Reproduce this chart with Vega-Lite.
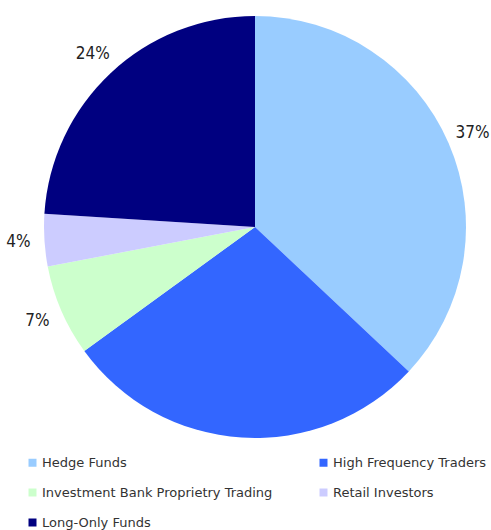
{
  "$schema": "https://vega.github.io/schema/vega-lite/v6.json",
  "width": 472,
  "height": 454,
  "autosize": {"type": "none"},
  "padding": {"left": 19, "top": 0, "right": 0, "bottom": 76},
  "background": "white",
  "config": {"view": {"stroke": null}},
  "data": {
    "values": [
      {"category": "Hedge Funds", "share": 37, "order": 1, "label": "37%"},
      {"category": "High Frequency Traders", "share": 28, "order": 2, "label": ""},
      {"category": "Investment Bank Proprietry Trading", "share": 7, "order": 3, "label": "7%"},
      {"category": "Retail Investors", "share": 4, "order": 4, "label": "4%"},
      {"category": "Long-Only Funds", "share": 24, "order": 5, "label": "24%"}
    ]
  },
  "encoding": {
    "theta": {"field": "share", "type": "quantitative", "stack": true},
    "order": {"field": "order", "type": "quantitative"}
  },
  "layer": [
    {
      "mark": {"type": "arc", "outerRadius": 211},
      "encoding": {
        "color": {
          "field": "category",
          "type": "nominal",
          "scale": {
            "domain": ["Hedge Funds", "High Frequency Traders", "Investment Bank Proprietry Trading", "Retail Investors", "Long-Only Funds"],
            "range": ["#99CCFF", "#3366FF", "#CCFFCC", "#CCCCFF", "#000080"]
          },
          "legend": {
            "title": null,
            "orient": "none",
            "direction": "horizontal",
            "legendX": 7,
            "legendY": 456,
            "columns": 2,
            "columnPadding": 44,
            "rowPadding": 16,
            "symbolType": "square",
            "symbolSize": 64,
            "symbolStrokeWidth": 0,
            "labelFont": "DejaVu Sans",
            "labelFontSize": 13,
            "labelColor": "#333333",
            "labelOffset": 3,
            "labelLimit": 400
          }
        }
      }
    },
    {
      "mark": {"type": "text", "radius": 237, "font": "DejaVu Sans Condensed", "fontSize": 17, "color": "#222222"},
      "encoding": {
        "text": {"field": "label", "type": "nominal"}
      }
    }
  ]
}
